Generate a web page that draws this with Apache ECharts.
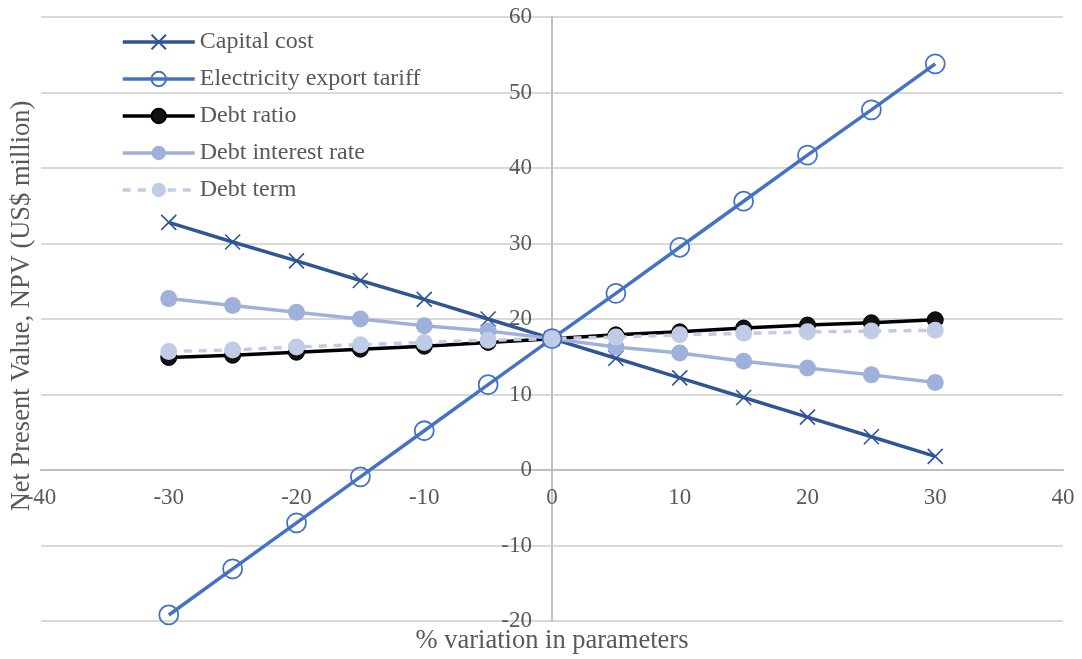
<!DOCTYPE html>
<html>
<head>
<meta charset="utf-8">
<title>NPV sensitivity</title>
<script src="https://cdn.jsdelivr.net/npm/echarts@6/dist/echarts.min.js"></script>
<style>
  html, body { margin: 0; padding: 0; background: #ffffff; }
  #chart { width: 1082px; height: 659px; }
</style>
</head>
<body>
<div id="chart"></div>
<script>
// % variation applied to each parameter
const variation = [-30, -25, -20, -15, -10, -5, 0, 5, 10, 15, 20, 25, 30];

// NPV (US$ million) for each parameter sweep
const capitalCost = [32.8, 30.2, 27.7, 25.1, 22.6, 20.0, 17.4, 14.8, 12.2, 9.6, 7.0, 4.4, 1.8];
const exportTariff = [-19.2, -13.1, -7.0, -0.9, 5.2, 11.3, 17.4, 23.4, 29.5, 35.6, 41.7, 47.7, 53.8];
const debtRatio = [14.9, 15.2, 15.6, 16.0, 16.4, 16.9, 17.4, 17.9, 18.3, 18.8, 19.2, 19.5, 19.9];
const debtInterest = [22.7, 21.8, 20.9, 20.0, 19.1, 18.4, 17.4, 16.3, 15.5, 14.4, 13.5, 12.6, 11.6];
const debtTerm = [15.7, 15.9, 16.3, 16.6, 16.9, 17.2, 17.4, 17.6, 17.9, 18.1, 18.3, 18.4, 18.5];

const seriesNames = ['Capital cost', 'Electricity export tariff', 'Debt ratio', 'Debt interest rate', 'Debt term'];

const xTicks = { min: -40, max: 40, interval: 10 };
const yTicks = { min: -20, max: 60, interval: 10 };

const FONT = '"Liberation Serif", "Times New Roman", serif';
const TEXT = '#595959';

const pairs = (ys) => variation.map((x, i) => [x, ys[i]]);

const chart = echarts.init(document.getElementById('chart'), null, { renderer: 'canvas' });

chart.setOption({
  backgroundColor: '#ffffff',
  animation: false,
  grid: { left: 41, right: 19, top: 17, bottom: 38, containLabel: false, outerBoundsMode: 'none' },
  legend: {
    orient: 'vertical',
    left: 116,
    top: 25,
    itemWidth: 72,
    itemHeight: 18,
    itemGap: 13,
    lineStyle: { width: 3.5 },
    textStyle: { fontFamily: FONT, fontSize: 24, color: TEXT },
    data: seriesNames
  },
  xAxis: {
    type: 'value',
    position: 'bottom',
    min: xTicks.min, max: xTicks.max, interval: xTicks.interval,
    axisLine: { onZero: false, lineStyle: { color: '#bfbfbf', width: 2 } },
    axisTick: { show: false },
    splitLine: { show: false },
    axisLabel: { margin: 16, fontFamily: FONT, fontSize: 23, color: TEXT }
  },
  yAxis: {
    type: 'value',
    position: 'left',
    min: yTicks.min, max: yTicks.max, interval: yTicks.interval,
    axisLine: { show: true, onZero: false, lineStyle: { color: '#bfbfbf', width: 2 } },
    axisTick: { show: false },
    splitLine: { show: true, lineStyle: { color: '#d9d9d9', width: 2 } },
    axisLabel: { margin: 20, fontFamily: FONT, fontSize: 23, color: TEXT }
  },
  graphic: [
    {
      type: 'text',
      x: 552,
      y: 641,
      style: {
        text: '% variation in parameters', font: '26.5px ' + FONT, fill: TEXT,
        align: 'center', verticalAlign: 'middle'
      }
    },
    {
      type: 'text',
      x: 22,
      y: 306,
      rotation: Math.PI / 2,
      style: {
        text: 'Net Present Value, NPV (US$ million)',
        font: '26.5px ' + FONT, fill: TEXT,
        align: 'center', verticalAlign: 'middle'
      }
    }
  ],
  series: [
    {
      name: seriesNames[0], type: 'line', data: pairs(capitalCost),
      symbol: 'path://M0,0L10,10M10,0L0,10', symbolSize: 15,
      lineStyle: { color: '#2F5597', width: 3.5 },
      itemStyle: { color: 'none', borderColor: '#2F5597', borderWidth: 1.6 }
    },
    {
      name: seriesNames[1], type: 'line', data: pairs(exportTariff),
      symbol: 'circle', symbolSize: 19,
      lineStyle: { color: '#4472C4', width: 3.5 },
      itemStyle: { color: 'rgba(255,255,255,0)', borderColor: '#4472C4', borderWidth: 1.8 }
    },
    {
      name: seriesNames[2], type: 'line', data: pairs(debtRatio),
      symbol: 'circle', symbolSize: 16,
      lineStyle: { color: '#000000', width: 3.5 },
      itemStyle: { color: '#111111', borderColor: '#000000', borderWidth: 1 }
    },
    {
      name: seriesNames[3], type: 'line', data: pairs(debtInterest),
      symbol: 'circle', symbolSize: 17,
      lineStyle: { color: '#9fb0da', width: 3.5 },
      itemStyle: { color: '#9fb0da' }
    },
    {
      name: seriesNames[4], type: 'line', data: pairs(debtTerm),
      symbol: 'circle', symbolSize: 17,
      lineStyle: { color: '#c0cbe6', width: 3.5, type: [8, 7] },
      itemStyle: { color: '#c0cbe6' }
    }
  ]
});

// Move both axes (line and tick labels) so they cross at the origin.
const origin = chart.convertToPixel({ gridIndex: 0 }, [0, 0]);
const corner = chart.convertToPixel({ gridIndex: 0 }, [xTicks.min, yTicks.min]);
chart.setOption({
  xAxis: { offset: -(corner[1] - origin[1]) },
  yAxis: { offset: -(origin[0] - corner[0]) }
});
</script>
</body>
</html>
